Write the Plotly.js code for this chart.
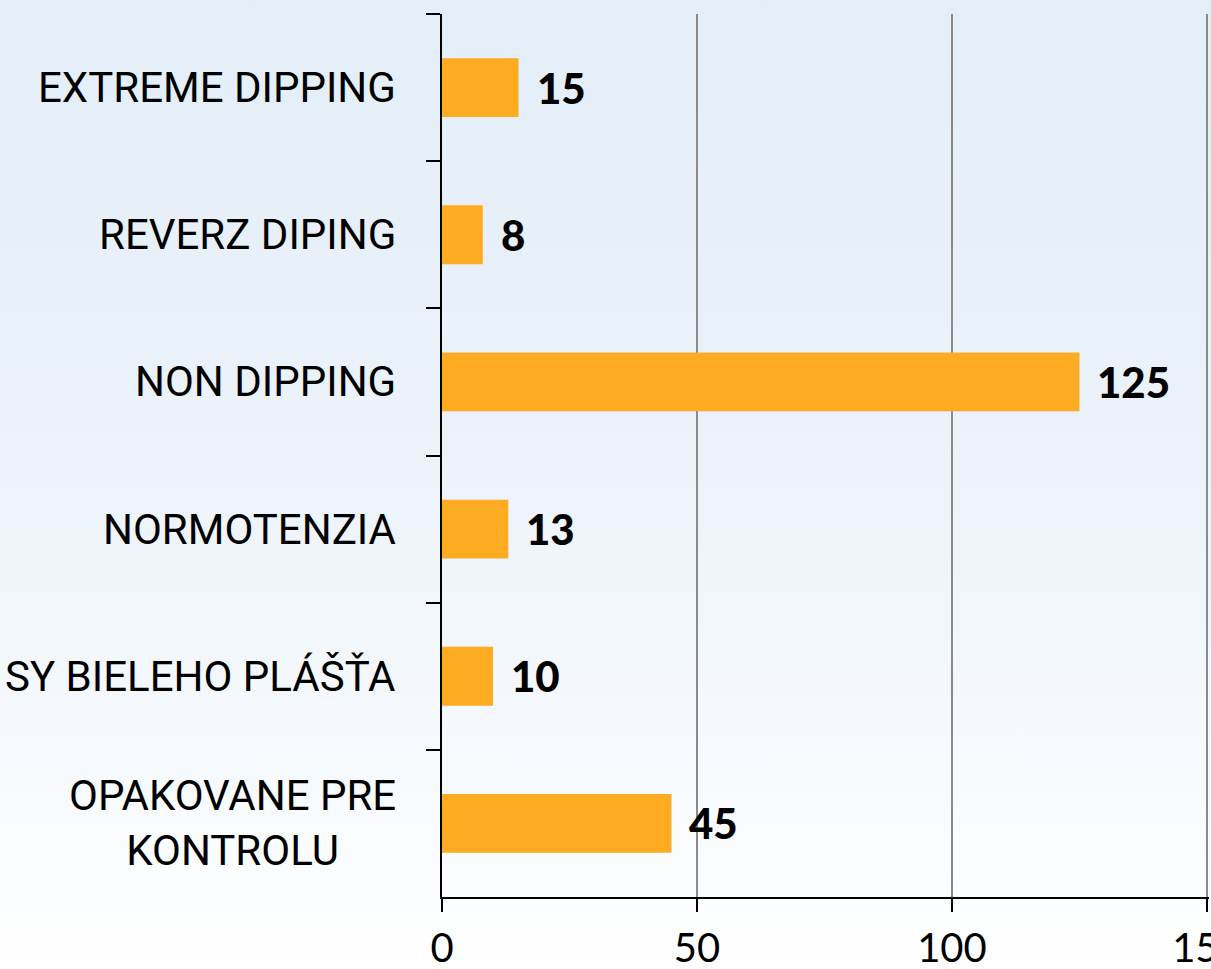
<!DOCTYPE html>
<html>
<head>
<meta charset="utf-8">
<script src="https://cdn.plot.ly/plotly-3.0.1.min.js"></script>
<style>
  html, body { margin: 0; padding: 0; }
  body {
    width: 1211px; height: 969px; overflow: hidden;
    background: linear-gradient(to bottom, #e3eef8 0%, #ebf2fa 45%, #f7fafd 80%, #ffffff 100%);
  }
  #chart { width: 1211px; height: 969px; }
</style>
</head>
<body>
<div id="chart"></div>
<script>
const categories = [
  "EXTREME DIPPING",
  "REVERZ DIPING",
  "NON DIPPING",
  "NORMOTENZIA",
  "SY BIELEHO PLÁŠŤA",
  "OPAKOVANE PRE<br>KONTROLU"
];
const values = [15, 8, 125, 13, 10, 45];
const xTicks = [0, 50, 100, 150];

const trace = {
  type: "bar",
  orientation: "h",
  y: categories,
  x: values,
  marker: { color: "#FDAB21", line: { width: 0 } },
  hoverinfo: "x+y"
};

const catAnnotations = categories.map(c => ({
  xref: "paper", yref: "y",
  x: 0, y: c,
  xanchor: "right", yanchor: "middle",
  xshift: -44,
  align: "center",
  showarrow: false,
  text: c,
  font: { family: "Roboto, 'Open Sans', sans-serif", size: 42, color: "#000" }
}));

const valAnnotations = categories.map((c, i) => ({
  xref: "x", yref: "y",
  x: values[i], y: c,
  xanchor: "left", yanchor: "middle",
  xshift: 16,
  showarrow: false,
  text: String(values[i]),
  font: { family: "Lato, 'DejaVu Sans', sans-serif", size: 42, color: "#000", weight: 900 }
}));

const layout = {
  width: 1211, height: 969,
  margin: { l: 442, r: 2, t: 14, b: 72 },
  paper_bgcolor: "rgba(0,0,0,0)",
  plot_bgcolor: "rgba(0,0,0,0)",
  showlegend: false,
  bargap: 0.6,
  xaxis: {
    range: [0, 150.4],
    tickvals: xTicks,
    ticktext: xTicks.map(String),
    showgrid: true,
    gridcolor: "#8a8a8a",
    gridwidth: 1.5,
    zeroline: false,
    showline: true,
    linecolor: "#000",
    linewidth: 2,
    ticks: "outside",
    ticklen: 13,
    tickwidth: 2,
    tickcolor: "#000",
    ticklabelstandoff: 2,
    ticklabeloverflow: "allow",
    automargin: false,
    tickfont: { family: "Lato, 'DejaVu Sans', sans-serif", size: 40, color: "#000" }
  },
  yaxis: {
    type: "category",
    autorange: "reversed",
    tickson: "boundaries",
    ticks: "outside",
    ticklen: 14,
    tickwidth: 2,
    tickcolor: "#000",
    showticklabels: false,
    showgrid: false,
    zeroline: false,
    showline: true,
    linecolor: "#000",
    linewidth: 2,
    automargin: false
  },
  annotations: catAnnotations.concat(valAnnotations)
};

Plotly.newPlot("chart", [trace], layout, { displayModeBar: false, staticPlot: true });
</script>
</body>
</html>
